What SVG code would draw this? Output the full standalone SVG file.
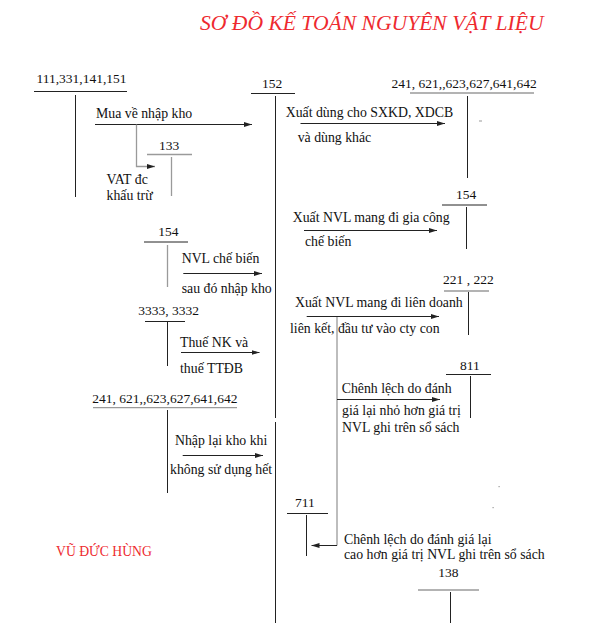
<svg xmlns="http://www.w3.org/2000/svg" width="589" height="623" viewBox="0 0 589 623">
<style>
text{font-family:"Liberation Serif","Times New Roman",serif;font-size:13.8px;fill:#111}
.n{font-size:13.5px}
.title{font-size:21.6px;font-style:italic;fill:#ee2a2f}
.author{font-size:13.7px;fill:#ee2a2f}
.k{stroke:#222;stroke-width:1;fill:none}
.g{stroke:#9a9a9a;stroke-width:1.3;fill:none}
.a{stroke:#222;stroke-width:1;fill:none;marker-end:url(#ah)}
.ag{stroke:#9a9a9a;stroke-width:1.3;fill:none;marker-end:url(#ah)}
</style>
<defs>
<marker id="ah" viewBox="0 0 8 6" refX="8" refY="3" markerWidth="8" markerHeight="6" markerUnits="userSpaceOnUse" orient="auto">
<path d="M0,0.5 L8,3 L0,5.5 Z" fill="#222"/>
</marker>
</defs>
<rect width="589" height="623" fill="#fff"/>
<text class="title" x="200" y="30">SƠ ĐỒ KẾ TOÁN NGUYÊN VẬT LIỆU</text>
<text class="author" x="56" y="556">VŨ ĐỨC HÙNG</text>

<g id="acc-111">
<text class="n" x="36.5" y="83">111,331,141,151</text>
<path class="k" d="M34,91.5H127M75.5,95V197"/>
</g>
<g id="acc-152">
<text class="n" x="262" y="88">152</text>
<path class="k" d="M251,93.5H295M275.5,96V418M275.5,422V623"/>
</g>
<g id="acc-241-top">
<text class="n" x="391.5" y="87.5">241, 621,,623,627,641,642</text>
<path class="g" d="M410,93H534"/>
<path class="k" d="M467.5,96V178"/>
</g>
<g id="acc-133">
<text class="n" x="159" y="150">133</text>
<path class="g" d="M147,154.5H192M171.5,157V196"/>
</g>
<g id="acc-154-right">
<text class="n" x="456" y="198.5">154</text>
<path class="k" d="M442,205H487M466.5,207V249"/>
</g>
<g id="acc-154-left">
<text class="n" x="158.3" y="236">154</text>
<path class="k" d="M144,242H188"/>
<path class="g" d="M167.5,245V287"/>
</g>
<g id="acc-221-222">
<text class="n" x="443" y="283.5">221 , 222</text>
<path class="g" d="M444,291H489"/>
<path class="k" d="M468.5,292V335"/>
</g>
<g id="acc-3333-3332">
<text class="n" x="138.3" y="315">3333, 3332</text>
<path class="k" d="M145,321.5H185M167.5,322V366"/>
</g>
<g id="acc-811">
<text class="n" x="460" y="370">811</text>
<path class="k" d="M446,374.5H491M470.5,376V418"/>
</g>
<g id="acc-241-bottom">
<text class="n" x="92.3" y="402.7">241, 621,,623,627,641,642</text>
<path class="g" d="M93,407.7H237"/>
<path class="k" d="M167.5,410V493"/>
</g>
<g id="acc-711">
<text class="n" x="295" y="507.3">711</text>
<path class="k" d="M287,513.5H328M306.5,515V556"/>
</g>
<g id="acc-138">
<text class="n" x="438.3" y="577.3">138</text>
<path class="g" d="M418,590H479"/>
<path class="k" d="M450.5,592V623"/>
</g>

<g id="connectors">
<path class="a" d="M95,124.5H252"/>
<text x="96" y="118">Mua về nhập kho</text>
<path class="ag" d="M136.5,124.5V166.5H155"/>
<text x="106.5" y="184">VAT đc</text>
<text x="106.5" y="200">khấu trừ</text>

<path class="a" d="M300.5,123.5H445"/>
<text x="285.7" y="116.7">Xuất dùng cho SXKD, XDCB</text>
<text x="297.7" y="141.7">và dùng khác</text>

<path class="a" d="M304,230.5H437"/>
<text x="292.7" y="221.7">Xuất NVL mang đi gia công</text>
<text x="305" y="246">chế biến</text>

<path class="a" d="M183.3,273.5H262"/>
<text x="181.7" y="263.3">NVL chế biến</text>
<text x="181.7" y="292.7">sau đó nhập kho</text>

<path class="a" d="M306.7,316.5H439"/>
<text x="295" y="306.7">Xuất NVL mang đi  liên doanh</text>
<text x="290" y="333.3">liên kết, đầu tư vào cty con</text>

<path class="a" d="M181,352.5H259.5"/>
<text x="180" y="346.7">Thuế NK và</text>
<text x="180" y="373.3">thuế TTĐB</text>

<path class="g" d="M337,317V545.5"/>
<path class="a" d="M337,399.5H440"/>
<text x="341.7" y="393.3">Chênh lệch do đánh</text>
<text x="342" y="415">giá lại nhỏ hơn giá trị</text>
<text x="342" y="431.7">NVL ghi trên sổ sách</text>

<path class="a" d="M182.7,455.5H263"/>
<text x="175" y="445">Nhập lại kho khi</text>
<text x="170" y="474.3">không sử dụng hết</text>

<path class="a" d="M337,545.5H311.5"/>
<text x="344" y="544">Chênh lệch do đánh giá lại</text>
<text x="344" y="559.3">cao hơn giá trị NVL ghi trên sổ sách</text>
</g>
<g id="specks" fill="#999">
<rect x="479" y="120.5" width="3" height="1"/>
<rect x="498.5" y="486" width="1.2" height="1.2"/>
<rect x="492.5" y="507" width="1.2" height="1.2"/>
</g>
</svg>
